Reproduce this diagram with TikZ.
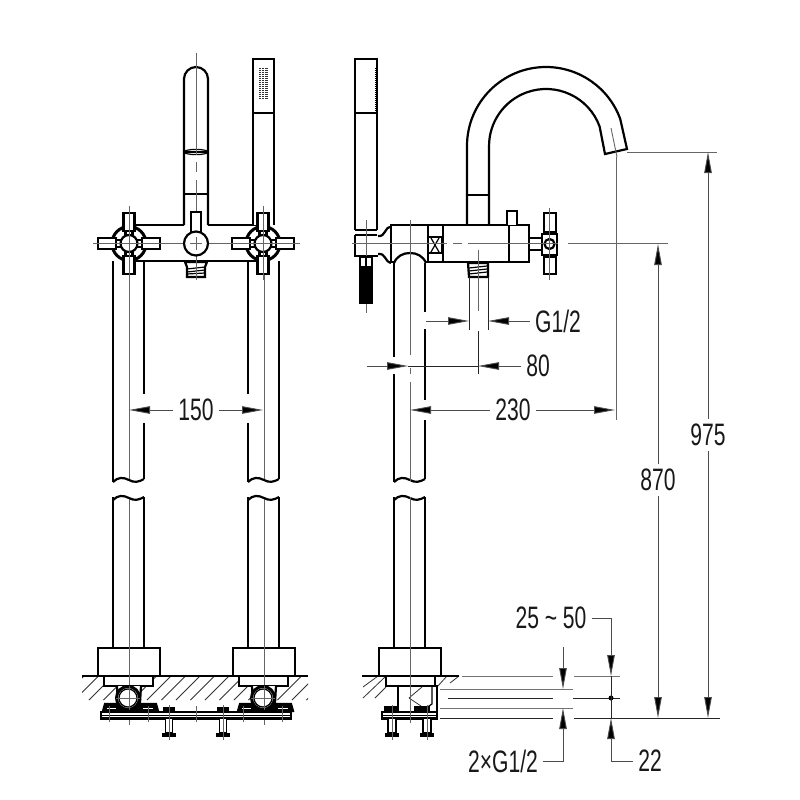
\documentclass[tikz,border=0pt]{standalone}
\usepackage{fontspec}
\newfontfamily\dimfont[FakeStretch=0.68]{Liberation Sans}
\usetikzlibrary{arrows.meta}
\tikzset{
  obj/.style={line width=2.2pt,black,line join=miter},
  thinobj/.style={line width=1.2pt,black},
  axis/.style={line width=0.9pt,black!60},
  extline/.style={line width=1pt,black!55},
  darkline/.style={line width=1pt,black!85},
  hatchline/.style={line width=0.8pt,black!80},
  dimarrow/.style={line width=0.9pt,black!70,-{Triangle[length=21pt,width=7.5pt,fill=black]}},
  dimtext/.style={font=\dimfont\fontsize{31}{31}\selectfont,inner sep=5pt,text=black!90}
}
\begin{document}
\begin{tikzpicture}[x=1pt,y=-1pt]
  \useasboundingbox (0,0) rectangle (800,800);
  \fill[white] (0,0) rectangle (800,800);

  % floor hatching
  \begin{scope}
    \clip (82,676) rectangle (308,700);
    \foreach \hx in {60,74.5,...,310}
      \draw[hatchline] (\hx,700) -- (\hx+24,676);
  \end{scope}
  \foreach \ax/\ay/\bx/\by in {363/687/378/676,363/698/385/677,375/698/386/687,437/687/447/676,450/683/459/676,409/698/422/687}
    \draw[hatchline] (\ax,\ay) -- (\bx,\by);
  \draw[hatchline] (409,698) -- (424,708);
  \draw[obj] (82,676) -- (308,676);
  \draw[obj] (362,676) -- (459,676);

  % front view, legs and bases
  \foreach \lx/\cx in {113/129,248/264} {
    \draw[axis] (\cx,206) -- (\cx,481);
    \draw[axis] (\cx,497) -- (\cx,725);
    \draw[obj,fill=white] (\lx-15,648) rectangle (\lx+47,676);
    \draw[obj,fill=white] (\lx-9,676) rectangle (\lx+40,686);
    \draw[axis] (\cx,640) -- (\cx,725);
    % bracket under the floor
    \draw[obj,fill=white] (\lx+4,686) -- (\lx+5,703) -- (\lx+27,703) -- (\lx+28,686);
    \draw[obj,fill=black] (\lx-10,711) -- (\lx-8,704) -- (\lx+43,704) -- (\lx+45,711) -- cycle;
    \draw[white,line width=1pt] (\lx-6,708) -- (\lx+3,708);
    \draw[white,line width=1pt] (\lx+30,708) -- (\lx+40,708);
    \draw[line width=3pt,fill=white] (\cx-1,698) circle (11.5);
    \draw[thinobj] (\cx-1,698) circle (9);
    \draw[axis] (\cx-13,698) -- (\cx+11,698);
    \draw[axis] (\cx,686) -- (\cx,710);
  }
  \foreach \lx in {113,248,394} {
    \draw[obj] (\lx,497) -- (\lx,648);
    \draw[obj] (\lx+31,497) -- (\lx+31,648);
    \draw[obj] (\lx,482) .. controls (\lx+5,477) and (\lx+10,477) .. (\lx+16,480) .. controls (\lx+21,483) and (\lx+26,482) .. (\lx+31,479);
    \draw[obj] (\lx,500) .. controls (\lx+5,495) and (\lx+10,495) .. (\lx+16,498) .. controls (\lx+21,501) and (\lx+26,500) .. (\lx+31,497);
  }
  \draw[obj] (113,261) -- (113,482);
  \draw[obj] (144,261) -- (144,394);
  \draw[obj] (144,423) -- (144,479);
  \draw[obj] (248,261) -- (248,394);
  \draw[obj] (248,423) -- (248,482);
  \draw[obj] (279,261) -- (279,479);

  % base plate and bolts, front view
  \draw[obj,fill=white] (101,712) rectangle (291,718.5);
  \draw[thinobj] (101,715.5) -- (291,715.5);
  \foreach \bx in {109,148,196,243,282}
    \draw[axis] (\bx,706) -- (\bx,722);
  \foreach \bx in {169,223} {
    \draw[obj,fill=black] (\bx-5,708) rectangle (\bx+5,712);
    \draw[thinobj,fill=white] (\bx-3.5,718) rectangle (\bx+3.5,733);
    \draw[obj,fill=black] (\bx-6,734) -- (\bx+6,734) -- (\bx+6,736) -- (\bx-6,736) -- cycle;
    \draw[axis] (\bx,705) -- (\bx,740);
  }

  % front view, body and spout
  \draw[obj,fill=white] (184,225) -- (184,79) arc[start angle=180,end angle=360,radius=12] -- (208,225);
  \draw[obj] (184,152) -- (208,152);
  \draw[thinobj] (196,152) ellipse (12 and 2.6);
  \draw[obj] (184,194) -- (208,194);
  \draw[obj] (135,225) -- (184,225);
  \draw[obj] (208,225) -- (257,225);
  \draw[obj] (135,261) -- (257,261);
  \draw[axis] (196,53) -- (196,155);
  \draw[axis] (196,162) -- (196,172);
  \draw[axis] (196,180) -- (196,280);
  \draw[axis] (96,243.5) -- (300,243.5);
  \draw[obj,fill=white] (191,212) rectangle (201,233);
  \draw[obj,fill=white] (196,243.5) circle (12);
  \draw[axis] (190,243.5) -- (202,243.5);
  \draw[axis] (196,237) -- (196,250);
  \draw[obj,fill=white] (185,262) -- (207,262) -- (205,267) -- (205,277) -- (187,277) -- (187,267) -- cycle;
  \draw[thinobj] (187,269) -- (205,267);
  \draw[thinobj] (187,272) -- (205,270);
  \draw[thinobj] (187,274) -- (205,273);
  \draw[axis] (196,258) -- (196,280);

  % hand shower, front view
  \draw[obj,fill=white] (253,225) -- (253,59) -- (274,59) -- (274,225);
  \draw[obj] (253,113) -- (274,113);
  \foreach \dx in {0,1.4,...,8.5}
    \foreach \dy in {0,2,...,30}
      \fill[black!80] (259+\dx,68+\dy) rectangle +(0.9,1.1);

  % handles, front view
  \foreach \hx in {129,263} {
    \draw[line width=3pt,fill=white] (\hx,243.5) circle (17);
    \draw[obj,fill=white] (\hx-3.5,226) rectangle (\hx+3.5,261);
    \draw[obj,fill=white] (\hx-17,240) rectangle (\hx+17,247);
    \draw[obj,fill=white] (\hx-5.5,213) rectangle (\hx+5.5,231);
    \draw[obj,fill=white] (\hx-5.5,256) rectangle (\hx+5.5,274);
    \draw[obj,fill=white] (\hx-31,238) rectangle (\hx-13,249);
    \draw[obj,fill=white] (\hx+13,238) rectangle (\hx+31,249);
    \draw[obj,fill=white] (\hx,243.5) circle (8.5);
    \draw[axis] (\hx-36,243.5) -- (\hx+37,243.5);
    \draw[axis] (\hx,206) -- (\hx,280);
  }

  % side view, hand shower
  \draw[obj,fill=white] (355,230) -- (355,59) -- (377,59) -- (377,230);
  \draw[obj] (355,113) -- (377,113);
  \foreach \dy in {0,2,...,42}
    \draw[line width=0.6pt] (374.5,68+\dy) -- (377,68+\dy);
  \draw[obj] (355,230) -- (377,230);
  \draw[obj] (355,235) -- (377,235);
  \draw[obj,fill=white] (355,235) -- (355,256) -- (378,256);
  \draw[obj] (378,236) .. controls (386,237) and (384,227) .. (391,227);
  \draw[obj] (378,254) .. controls (386,253) and (384,261) .. (391,263);
  \draw[axis] (366,220) -- (366,313);
  \draw[thinobj,fill=white] (360,257) rectangle (372,267);
  \draw[thinobj] (366,257) -- (366,267);
  \fill[black] (359,267) rectangle (373,304);

  % side view, body
  \draw[obj,fill=white] (391,225) rectangle (428,262);
  \draw[obj,fill=white] (428,225) rectangle (443,262);
  \draw[thinobj] (428,237) rectangle (442,253);
  \draw[thinobj] (431,238) -- (439,252);
  \draw[thinobj] (439,238) -- (431,252);
  \draw[obj] (443,225) rectangle (529,262);
  \draw[obj] (509,225) -- (509,262);
  \draw[obj,fill=white] (507,225) -- (507,211) -- (517,211) -- (517,225);
  \draw[obj] (529,238) -- (542,238);
  \draw[obj] (529,250) -- (542,250);
  \draw[obj,fill=white] (542,234) rectangle (557,255);
  \draw[obj] (549.5,244) circle (5);
  \draw[obj,fill=white] (544,213) rectangle (556,232);
  \draw[obj,fill=white] (544,257) rectangle (556,274);
  \draw[axis] (549.5,208) -- (549.5,280);

  % side view, spout
  \draw[obj] (467,225) -- (467,146) arc[start angle=180,end angle=340,radius=79] -- (627,149) -- (605,154) -- (599.6,126.5) arc[start angle=340,end angle=180,radius=57] -- (489,225);
  \draw[obj] (467,195) -- (489,195);
  \draw[axis] (611,128) -- (617,157);

  % side view, thread under body
  \draw[obj,fill=white] (468,263) -- (488,263) -- (488,277) -- (469,277) -- cycle;
  \draw[thinobj] (469,268) -- (487,266);
  \draw[thinobj] (469,271) -- (487,269);
  \draw[thinobj] (469,274) -- (487,272);

  % side view, leg and base
  \draw[obj,fill=white] (394,263) .. controls (397,256) and (403,253) .. (410,253) .. controls (417,253) and (423,256) .. (426,263);
  \draw[obj] (394,263) -- (394,357);
  \draw[obj] (394,374) -- (394,482);
  \draw[obj] (425,263) -- (425,312);
  \draw[obj] (425,329) -- (425,400);
  \draw[obj] (425,420) -- (425,479);
  \draw[obj,fill=white] (379,648) rectangle (441,676);
  \draw[obj,fill=white] (386,676) rectangle (435,686);
  \draw[obj] (398,686) -- (398,707);
  \draw[obj] (432,686) -- (437,686) -- (437,713);
  \draw[thinobj] (432,686) -- (432,704) -- (426,708);
  \draw[obj,fill=black] (385,707) rectangle (398,711);
  \draw[obj,fill=black] (415,707) rectangle (429,711);
  \draw[obj,fill=white] (382,712) rectangle (437,718.5);
  \draw[thinobj] (382,715.5) -- (437,715.5);
  \foreach \bx in {392,427} {
    \draw[thinobj,fill=white] (\bx-4,718) rectangle (\bx+4,733);
    \draw[obj,fill=black] (\bx-6,734) -- (\bx+6,734) -- (\bx+6,736) -- (\bx-6,736) -- cycle;
    \draw[axis] (\bx,705) -- (\bx,740);
  }
  \draw[axis] (410,220) -- (410,355);
  \draw[axis] (410,368) -- (410,374);
  \draw[axis] (410,382) -- (410,481);
  \draw[axis] (410,497) -- (410,723);

  % centre and extension lines
  \draw[axis] (352,243.5) -- (447,243.5);
  \draw[axis] (453,243.5) -- (462,243.5);
  \draw[axis] (468,243.5) -- (558,243.5);
  \draw[axis] (568,243.5) -- (668,243.5);
  \draw[axis] (478,250) -- (478,311);
  \draw[axis] (627,152) -- (717,152);
  \draw[axis] (616,157) -- (616,420);
  \draw[darkline] (469,277) -- (469,330);
  \draw[darkline] (488,277) -- (488,330);
  \draw[darkline] (478,331) -- (478,374);
  \draw[extline] (462,676) -- (553,676);
  \draw[extline] (574,676) -- (620,676);
  \draw[extline] (440,689) -- (573,689);
  \draw[darkline] (448,698) -- (553,698);
  \draw[darkline] (573,698) -- (620,698);
  \draw[extline] (440,708) -- (573,708);
  \draw[darkline] (440,718) -- (553,718);
  \draw[darkline] (574,718) -- (720,718);
  \fill[black] (611,698) circle (2.5);

  % dimensions
  \node[dimtext] (d150) at (196,410) {150};
  \coordinate (a150) at (129,410);
  \coordinate (b150) at (263,410);
  \draw[dimarrow] (d150) -- (a150);
  \draw[dimarrow] (d150) -- (b150);

  \node[dimtext] (dg12) at (558,321) {G1/2};
  \coordinate (ag12) at (426,321);
  \coordinate (bg12) at (469,321);
  \coordinate (cg12) at (488,321);
  \draw[dimarrow] (ag12) -- (bg12);
  \draw[dimarrow] (dg12) -- (cg12);

  \node[dimtext] (d80) at (538,366) {80};
  \coordinate (a80) at (367,366);
  \coordinate (b80) at (408,366);
  \coordinate (c80) at (478,366);
  \draw[dimarrow] (a80) -- (b80);
  \draw[dimarrow] (d80) -- (c80);
  \draw[darkline] (b80) -- (c80);

  \node[dimtext] (d230) at (513,410) {230};
  \coordinate (a230) at (410,410);
  \coordinate (b230) at (615,410);
  \draw[dimarrow] (d230) -- (a230);
  \draw[dimarrow] (d230) -- (b230);

  \node[dimtext] (d870) at (658,480) {870};
  \coordinate (a870) at (658,244);
  \coordinate (b870) at (658,718);
  \draw[dimarrow] (d870) -- (a870);
  \draw[dimarrow] (d870) -- (b870);

  \node[dimtext] (d975) at (708,435) {975};
  \coordinate (a975) at (708,152);
  \coordinate (b975) at (708,718);
  \draw[dimarrow] (d975) -- (a975);
  \draw[dimarrow] (d975) -- (b975);

  \node[dimtext] (d2550) at (551,618) {25 \~{} 50};
  \coordinate (a2550) at (611,676);
  \coordinate (b22) at (611,718);
  \draw[dimarrow] (d2550) -| (a2550);
  \draw[darkline] (a2550) -- (b22);

  \node[dimtext] (d22) at (650,761) {22};
  \draw[dimarrow] (d22) -| (b22);

  \coordinate (top2g) at (563,647);
  \coordinate (a2g) at (563,689);
  \coordinate (b2g) at (563,708);
  \draw[dimarrow] (top2g) -- (a2g);
  \node[dimtext] (d2g) at (503,761) {2×G1/2};
  \draw[dimarrow] (d2g) -| (b2g);
\end{tikzpicture}
\end{document}
